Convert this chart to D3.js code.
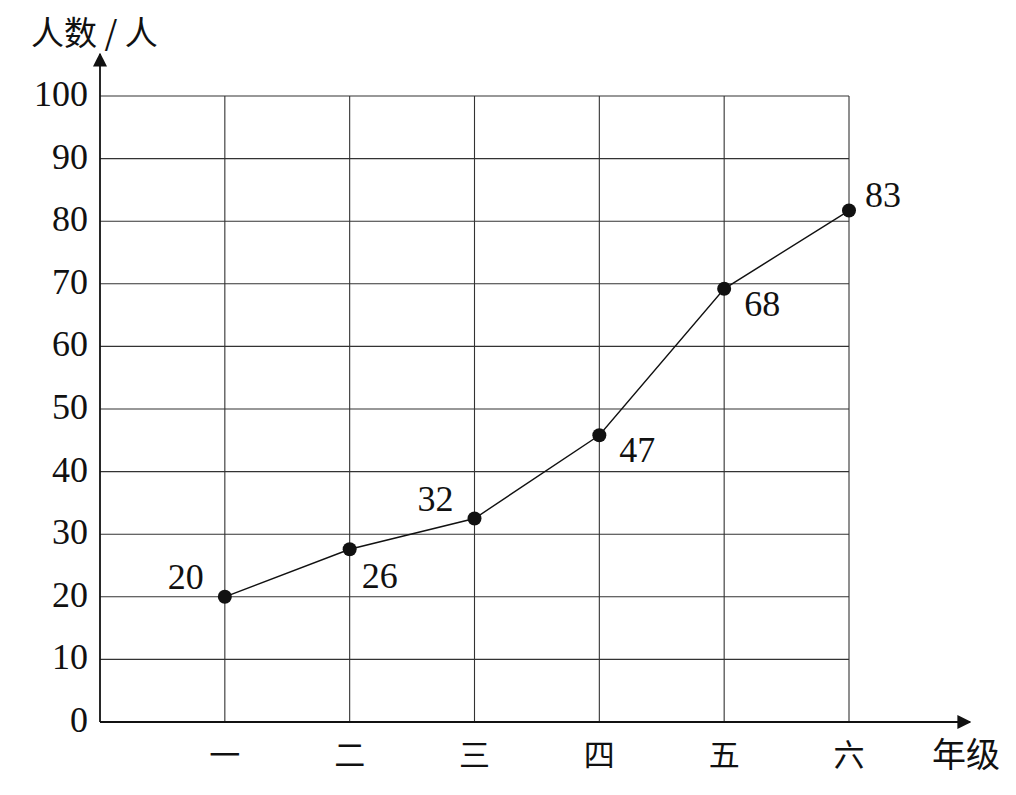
<!DOCTYPE html>
<html>
<head>
<meta charset="utf-8">
<script src="https://cdn.jsdelivr.net/npm/d3@7"></script>
<style>
  html, body { margin: 0; padding: 0; background: #fff; }
  svg { display: block; }
  .num { font-family: "Liberation Serif", "DejaVu Serif", serif; fill: #111; }
  .cjk { font-family: "Noto Sans CJK SC", sans-serif; fill: #111; }
</style>
</head>
<body>
<svg id="chart" width="1016" height="795"></svg>
<script>
// grades on the x axis
const grades = ["一", "二", "三", "四", "五", "六"];
// point heights as drawn in the picture
const values = [20, 27.6, 32.5, 45.8, 69.2, 81.7];
// printed labels next to each point
const labels = ["20", "26", "32", "47", "68", "83"];
// which side each label sits on
const labelSide = ["upleft", "downright", "upleft", "right", "right", "upright"];
const yTicks = [0, 10, 20, 30, 40, 50, 60, 70, 80, 90, 100];

(function () {
  "use strict";
  const svg = d3.select("#chart");
  const x = d3.scaleLinear().domain([0, grades.length]).range([100, 849]);
  const y = d3.scaleLinear().domain([0, 100]).range([722, 96]);
  const GRID = "#333", INK = "#111";

  // horizontal grid
  svg.append("g").selectAll("line").data(yTicks.filter((t) => t > 0)).enter().append("line")
    .attr("x1", x(0)).attr("x2", x(grades.length))
    .attr("y1", (t) => y(t)).attr("y2", (t) => y(t))
    .attr("stroke", GRID).attr("stroke-width", 1.1);

  // vertical grid
  svg.append("g").selectAll("line").data(grades).enter().append("line")
    .attr("x1", (d, i) => x(i + 1)).attr("x2", (d, i) => x(i + 1))
    .attr("y1", y(100)).attr("y2", y(0))
    .attr("stroke", GRID).attr("stroke-width", 1.1);

  // axes with arrows
  svg.append("defs").append("marker").attr("id", "arr")
    .attr("viewBox", "0 0 10 10").attr("refX", 9).attr("refY", 5)
    .attr("markerWidth", 14).attr("markerHeight", 14).attr("markerUnits", "userSpaceOnUse")
    .attr("orient", "auto")
    .append("path").attr("d", "M0,0 L10,5 L0,10 Z").attr("fill", INK);

  svg.append("line").attr("x1", x(0)).attr("x2", x(0)).attr("y1", y(0)).attr("y2", 54)
    .attr("stroke", INK).attr("stroke-width", 1.8).attr("marker-end", "url(#arr)");
  svg.append("line").attr("x1", x(0)).attr("x2", 970).attr("y1", y(0)).attr("y2", y(0))
    .attr("stroke", INK).attr("stroke-width", 1.8).attr("marker-end", "url(#arr)");

  // y tick labels
  svg.append("g").selectAll("text").data(yTicks).enter().append("text")
    .attr("class", "num").attr("x", 88).attr("y", (t) => y(t) - 2)
    .attr("text-anchor", "end").attr("dominant-baseline", "central")
    .attr("font-size", 36).text((t) => t);

  // x category labels
  svg.append("g").selectAll("text").data(grades).enter().append("text")
    .attr("class", "cjk").attr("x", (d, i) => x(i + 1)).attr("y", 766)
    .attr("text-anchor", "middle").attr("font-size", 31).text((d) => d);

  svg.append("text").attr("class", "cjk").attr("x", 966).attr("y", 767)
    .attr("text-anchor", "middle").attr("font-size", 34).text("年级");
  svg.append("text").attr("class", "cjk").attr("x", 31).attr("y", 45)
    .attr("font-size", 33).text("人数 / 人");

  // line + points
  const line = d3.line().x((d, i) => x(i + 1)).y((d) => y(d));
  svg.append("path").datum(values).attr("fill", "none").attr("stroke", INK)
    .attr("stroke-width", 1.4).attr("d", line);
  svg.append("g").selectAll("circle").data(values).enter().append("circle")
    .attr("cx", (d, i) => x(i + 1)).attr("cy", (d) => y(d)).attr("r", 7).attr("fill", INK);

  const off = { upleft: [-39, -20], downright: [30, 27], right: [38, 15], upright: [34, -16] };
  svg.append("g").selectAll("text").data(labels).enter().append("text")
    .attr("class", "num")
    .attr("x", (d, i) => x(i + 1) + off[labelSide[i]][0])
    .attr("y", (d, i) => y(values[i]) + off[labelSide[i]][1])
    .attr("text-anchor", "middle").attr("dominant-baseline", "central")
    .attr("font-size", 36).text((d) => d);
})();
</script>
</body>
</html>
